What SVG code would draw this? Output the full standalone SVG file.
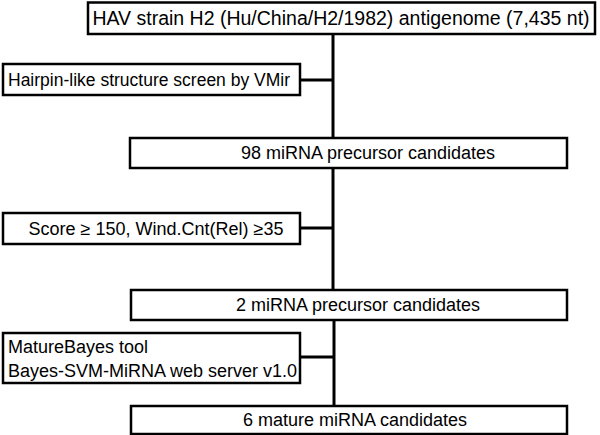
<svg xmlns="http://www.w3.org/2000/svg" width="600" height="435" viewBox="0 0 600 435">
<style>
.box{fill:#fff;stroke:#000;stroke-width:2.5}
.t{font-family:"Liberation Sans",Arial,sans-serif;font-size:18px;fill:#000}
.c{text-anchor:middle}
.ln{stroke:#000;stroke-width:3;fill:none}
</style>
<rect width="600" height="435" fill="#fff"/>
<g id="connectors">
<line class="ln" x1="333" y1="34" x2="333" y2="138"/>
<line class="ln" x1="300" y1="80" x2="333" y2="80"/>
<line class="ln" x1="333" y1="168" x2="333" y2="290"/>
<line class="ln" x1="300" y1="228" x2="333" y2="228"/>
<line class="ln" x1="334" y1="320" x2="334" y2="406"/>
<line class="ln" x1="300" y1="357" x2="334" y2="357"/>
</g>
<g id="n1"><rect class="box" x="88" y="2.5" width="507" height="31.5"/><text class="t c" x="341" y="25" style="font-size:19.5px">HAV strain H2 (Hu/China/H2/1982) antigenome (7,435 nt)</text></g>
<g id="n2"><rect class="box" x="3" y="64" width="297" height="31"/><text class="t" x="8" y="86" style="font-size:17.5px">Hairpin-like structure screen by VMir</text></g>
<g id="n3"><rect class="box" x="130" y="138" width="437" height="30"/><text class="t c" x="368" y="159">98 miRNA precursor candidates</text></g>
<g id="n4"><rect class="box" x="3" y="213" width="297" height="31"/><text class="t c" x="156" y="235">Score ≥ 150, Wind.Cnt(Rel) ≥35</text></g>
<g id="n5"><rect class="box" x="131" y="290" width="436" height="30"/><text class="t c" x="358" y="311">2 miRNA precursor candidates</text></g>
<g id="n6"><rect class="box" x="3" y="333" width="297" height="50"/><text class="t" x="8" y="353">MatureBayes tool</text><text class="t" x="8" y="377">Bayes-SVM-MiRNA web server v1.0</text></g>
<g id="n7"><rect class="box" x="131" y="406" width="436" height="28"/><text class="t c" x="355" y="426">6 mature miRNA candidates</text></g>
</svg>
